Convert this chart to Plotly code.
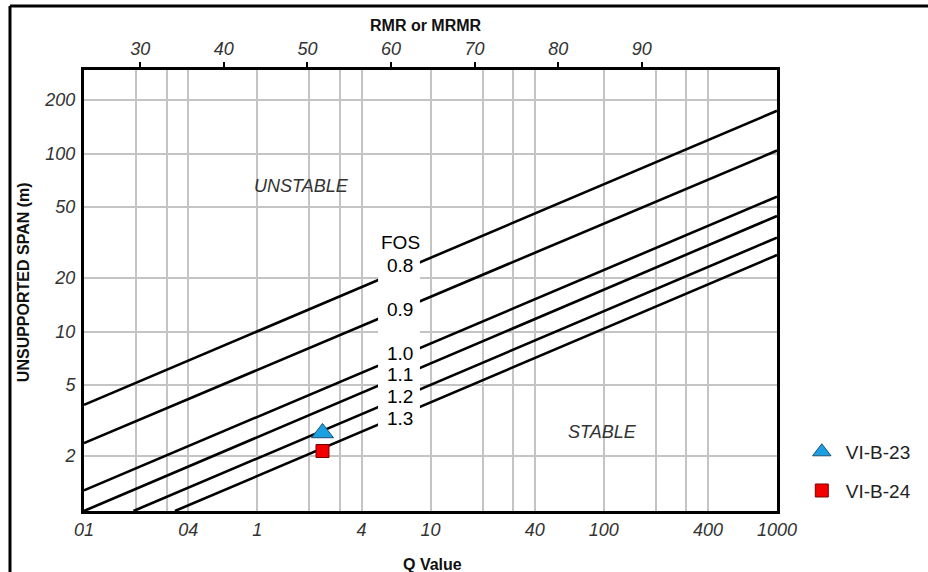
import math
import plotly.graph_objects as go

# ---------------- data ----------------
q_tick_vals = [0.1, 0.4, 1, 4, 10, 40, 100, 400, 1000]
q_tick_text = ["01", "04", "1", "4", "10", "40", "100", "400", "1000"]
q_minor_grid = [0.2, 0.3, 2, 3, 20, 30, 200, 300]
span_tick_vals = [2, 5, 10, 20, 50, 100, 200]
rmr_tick_vals = [30, 40, 50, 60, 70, 80, 90]

fos_labels = ["0.8", "0.9", "1.0", "1.1", "1.2", "1.3"]
fos_q_start = [0.1, 0.1, 0.1, 0.1, 0.193, 0.335]
fos_span_start = [3.87, 2.36, 1.28, 0.98, 0.98, 0.98]
fos_q_end = [1000, 1000, 1000, 1000, 1000, 1000]
fos_span_end = [174, 104, 57.3, 44.6, 33.7, 26.9]
fos_label_shift = [5, 0, 3, 2, 1, -3]

sample_names = ["VI-B-23", "VI-B-24"]
sample_q = [2.38, 2.38]
sample_span = [2.69, 2.13]
sample_symbols = ["triangle-up", "square"]
sample_colors = ["#1BA1E2", "#F20000"]
sample_lines = ["#1F4F7A", "#7A0000"]
sample_sizes = [19, 13]

Q_MIN, Q_MAX = 0.1, 1000
SPAN_MIN, SPAN_MAX = 0.98, 295
LABEL_Q = 6.67

def rmr_from_q(q):
    return 9 * math.log(q) + 44

def interp_loglog(q, q0, s0, q1, s1):
    t = (math.log10(q) - math.log10(q0)) / (math.log10(q1) - math.log10(q0))
    return 10 ** (math.log10(s0) + t * (math.log10(s1) - math.log10(s0)))

FONT = "Liberation Sans, Arial, sans-serif"
fig = go.Figure()

for i, lab in enumerate(fos_labels):
    fig.add_trace(go.Scatter(
        x=[fos_q_start[i], fos_q_end[i]], y=[fos_span_start[i], fos_span_end[i]],
        mode="lines", line=dict(color="black", width=2.6),
        showlegend=False, hoverinfo="skip"))

for i, name in enumerate(sample_names):
    fig.add_trace(go.Scatter(
        x=[sample_q[i]], y=[sample_span[i]], mode="markers", name=name,
        legendgroup=name,
        marker=dict(symbol=sample_symbols[i], size=sample_sizes[i],
                    color=sample_colors[i],
                    line=dict(color=sample_lines[i], width=1))))

# dummy trace for top axis
fig.add_trace(go.Scatter(x=[rmr_from_q(Q_MIN), rmr_from_q(Q_MAX)], y=[1, 1],
                         xaxis="x2", mode="lines", line=dict(width=0),
                         showlegend=False, hoverinfo="skip", opacity=0))

# white box behind FOS labels
fig.add_shape(type="rect", xref="x", yref="y", x0=4.98, x1=8.69, y0=2.87, y1=37,
              fillcolor="white", line=dict(width=0), layer="above")

for i, lab in enumerate(fos_labels):
    yv = interp_loglog(LABEL_Q, fos_q_start[i], fos_span_start[i], fos_q_end[i], fos_span_end[i])
    fig.add_annotation(x=math.log10(LABEL_Q), y=math.log10(yv), text=lab, showarrow=False,
                       yshift=fos_label_shift[i], xanchor="center", yanchor="middle",
                       font=dict(family=FONT, size=19, color="black"))
    if i == 0:
        fig.add_annotation(x=math.log10(LABEL_Q), y=math.log10(yv), text="FOS", showarrow=False,
                           yshift=fos_label_shift[i] + 23, xanchor="center", yanchor="middle",
                           font=dict(family=FONT, size=19, color="black"))

fig.add_annotation(x=math.log10(1.81), y=math.log10(65.8), text="UNSTABLE", showarrow=False,
                   xanchor="center", yanchor="middle",
                   font=dict(family=FONT, size=18, color="#333333", style="italic"))
fig.add_annotation(x=math.log10(98), y=math.log10(2.73), text="STABLE", showarrow=False,
                   xanchor="center", yanchor="middle",
                   font=dict(family=FONT, size=18, color="#333333", style="italic"))

# axis titles
fig.add_annotation(xref="paper", yref="paper", x=0.4935, y=1.102, text="<b>RMR or MRMR</b>",
                   xanchor="center", yanchor="middle",
                   showarrow=False, font=dict(family=FONT, size=16, color="#111111"))
fig.add_annotation(xref="paper", yref="paper", x=0.5036, y=-0.1224, text="<b>Q Value</b>",
                   xanchor="center", yanchor="middle",
                   showarrow=False, font=dict(family=FONT, size=16, color="#111111"))
fig.add_annotation(xref="paper", yref="paper", x=-0.088, y=0.519, text="<b>UNSUPPORTED SPAN (m)</b>",
                   xanchor="center", yanchor="middle",
                   textangle=-90, showarrow=False, font=dict(family=FONT, size=16, color="#111111"))

# outer frame (left and top edges visible in the picture)
fig.add_shape(type="line", xref="paper", yref="paper", x0=-0.1068, x1=-0.1068, y0=-0.3, y1=1.1451,
              line=dict(color="black", width=3), layer="above")
fig.add_shape(type="line", xref="paper", yref="paper", x0=-0.1068, x1=1.3, y0=1.1451, y1=1.1451,
              line=dict(color="black", width=3), layer="above")

tickfont = dict(family=FONT, size=18, color="#333333", style="italic")
fig.update_layout(
    width=928, height=572,
    margin=dict(l=84, r=151, t=70, b=61, autoexpand=False),
    paper_bgcolor="white", plot_bgcolor="white",
    xaxis=dict(type="log", range=[math.log10(Q_MIN), math.log10(Q_MAX)],
               tickmode="array", tickvals=q_tick_vals, ticktext=q_tick_text,
               ticks="", tickfont=tickfont, showgrid=True, gridcolor="#C4C4C4", gridwidth=1.5,
               minor=dict(tickmode="array", tickvals=q_minor_grid, showgrid=True,
                          gridcolor="#C4C4C4", gridwidth=1.5, ticks=""),
               showline=True, linecolor="black", linewidth=3, mirror=True,
               zeroline=False, ticklabelstandoff=0),
    xaxis2=dict(overlaying="x", side="top", range=[rmr_from_q(Q_MIN), rmr_from_q(Q_MAX)],
                tickmode="array", tickvals=rmr_tick_vals, ticks="outside", ticklen=7,
                tickwidth=2, tickcolor="black", tickfont=tickfont, showgrid=False,
                showline=False, zeroline=False),
    yaxis=dict(type="log", range=[math.log10(SPAN_MIN), math.log10(SPAN_MAX)],
               tickmode="array", tickvals=span_tick_vals, ticks="", tickfont=tickfont,
               showgrid=True, gridcolor="#C4C4C4", gridwidth=1.5,
               showline=True, linecolor="black", linewidth=3, mirror=True,
               zeroline=False, ticklabelstandoff=2),
    legend=dict(x=1.03, y=0.177, xanchor="left", yanchor="top",
                font=dict(family=FONT, size=19, color="#222222"),
                itemwidth=38, tracegroupgap=11, bgcolor="rgba(0,0,0,0)"),
    showlegend=True,
)

fig.write_html("out.html")
